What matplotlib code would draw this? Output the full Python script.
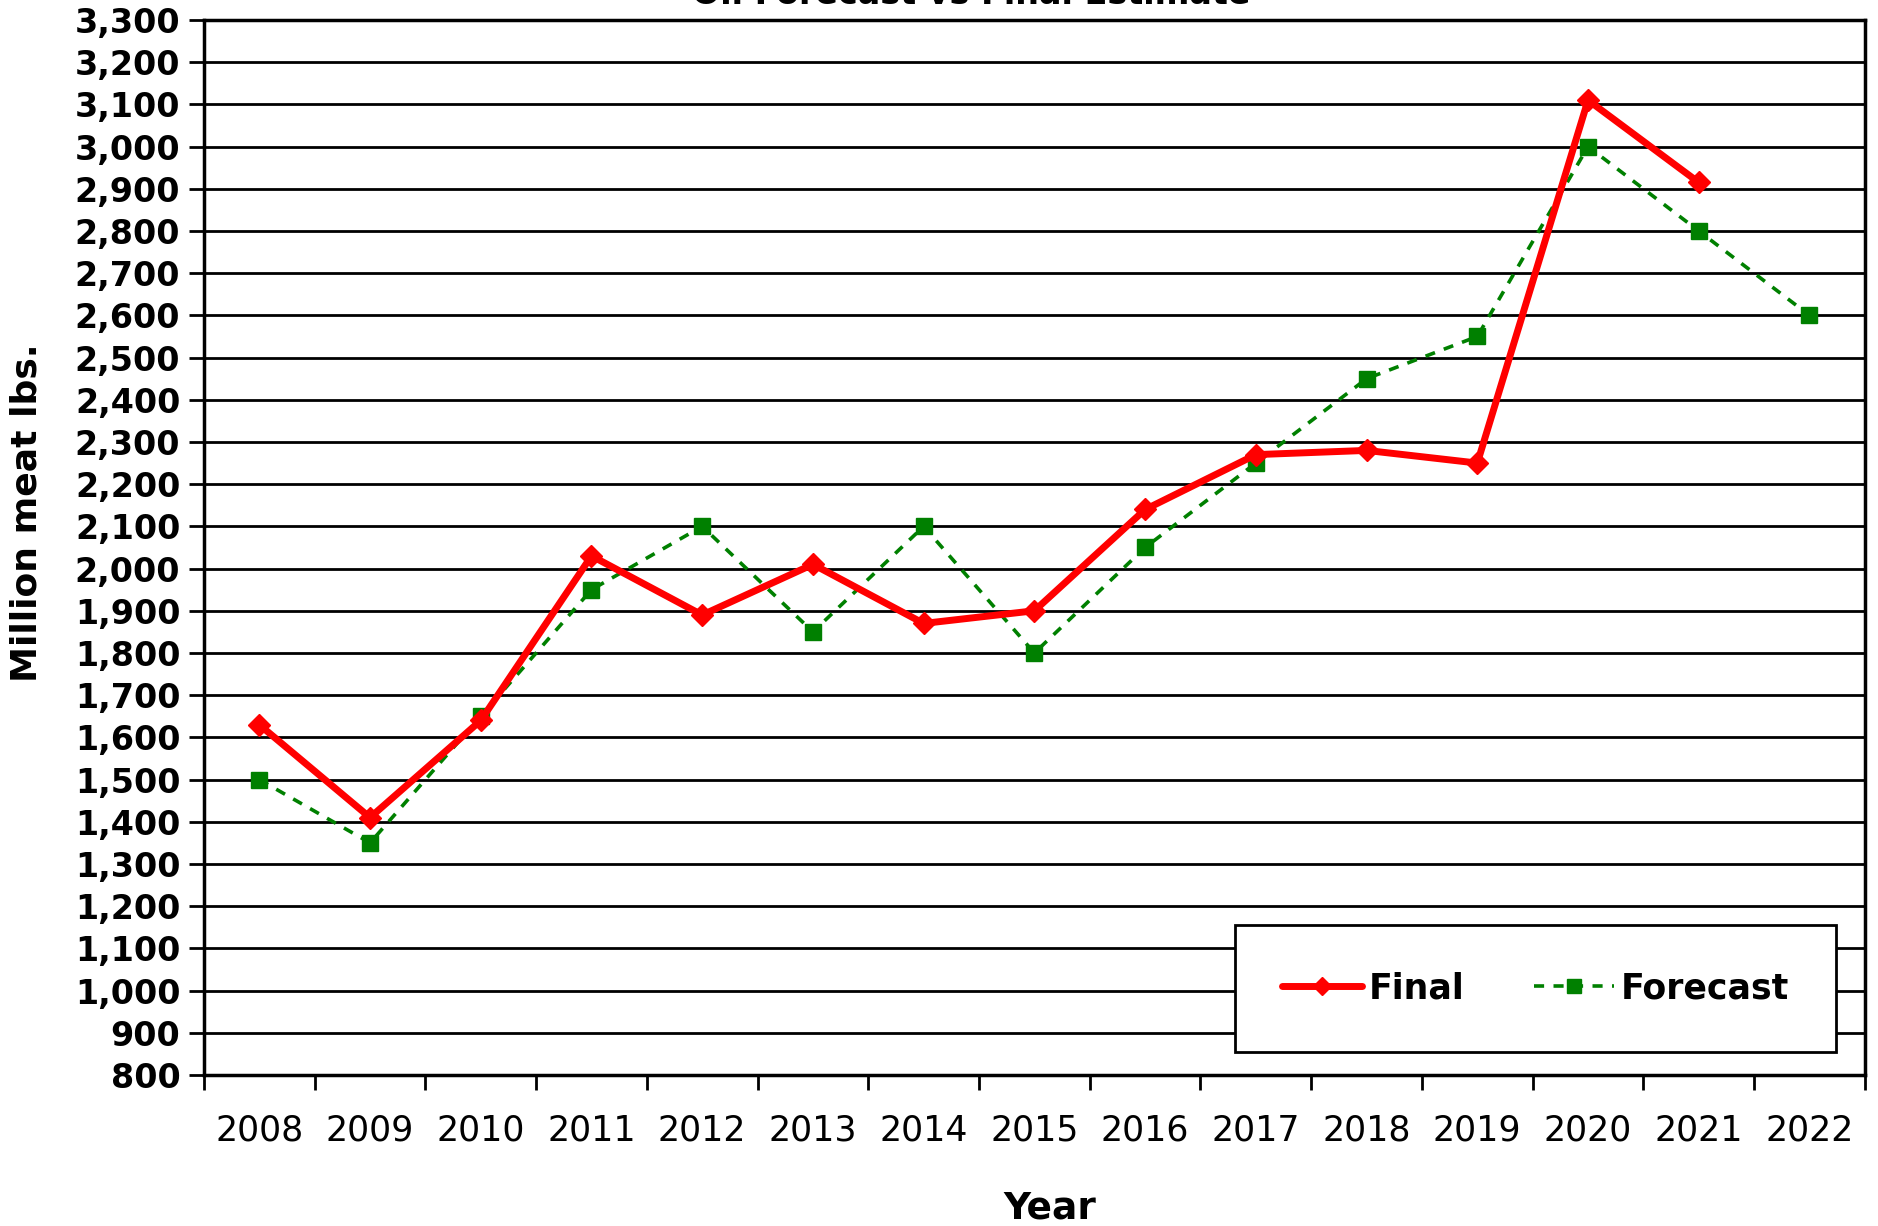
import numpy as np
import matplotlib
matplotlib.use('Agg')
import matplotlib.pyplot as plt

years = ['2008', '2009', '2010', '2011', '2012', '2013', '2014', '2015',
         '2016', '2017', '2018', '2019', '2020', '2021', '2022']
final = [1630, 1410, 1640, 2030, 1890, 2010, 1870, 1900,
         2140, 2270, 2280, 2250, 3110, 2915]
forecast = [1500, 1350, 1650, 1950, 2100, 1850, 2100, 1800,
            2050, 2250, 2450, 2550, 3000, 2800, 2600]

plt.rcParams['font.family'] = ['DejaVu Sans']

fig = plt.figure(figsize=(18.78, 12.26), dpi=100)
ax = fig.add_axes([0.1086, 0.1232, 0.8844, 0.8605])

x = np.arange(len(years))
ax.plot(x[:len(final)], final, color='#ff0000', lw=5, marker='D', ms=11,
        label='Final', solid_capstyle='round', zorder=4)
ax.plot(x, forecast, color='#008000', lw=2.6, ls=(0, (2.8, 2.6)), marker='s', ms=11.5,
        label='Forecast', zorder=3)

ax.set_xlim(-0.5, len(years) - 0.5)
ax.set_ylim(800, 3300)

# y axis
ax.set_yticks(np.arange(800, 3301, 100))
ax.set_yticklabels(['{:,}'.format(v) for v in range(800, 3301, 100)],
                   fontsize=24, fontweight='bold')
ax.yaxis.grid(True, color='black', lw=2)
ax.tick_params(axis='y', length=11, width=2, direction='out', pad=6)

# x axis: ticks between categories, labels at centers
ax.set_xticks(np.arange(-0.5, len(years), 1.0))
ax.set_xticklabels([])
ax.set_xticks(x, minor=True)
ax.set_xticklabels(years, minor=True, fontsize=25)
ax.tick_params(axis='x', which='major', length=11, width=2, direction='out')
ax.tick_params(axis='x', which='minor', length=0, pad=28)

for s in ax.spines.values():
    s.set_linewidth(2.5)
    s.set_color('black')
ax.set_axisbelow(True)

fig.text(0.014, 0.582, 'Million meat lbs.', rotation=90, fontsize=26,
         fontweight='bold', ha='center', va='center')
fig.text(0.559, 0.014, 'Year', fontsize=27, fontweight='bold',
         ha='center', va='center')
fig.text(0.517, 0.997, 'Oil Forecast vs Final Estimate', fontsize=24,
         fontweight='bold', ha='center', va='baseline')

leg = ax.legend(loc='center', bbox_to_anchor=(0.6567, 0.1386, 0.3216, 0.1101),
                bbox_transform=fig.transFigure, ncol=2,
                prop={'weight': 'bold', 'size': 25}, frameon=True,
                fancybox=False, edgecolor='black', framealpha=1,
                handlelength=2.3, columnspacing=2.0, handletextpad=0.2,
                borderpad=1.35, borderaxespad=0, markerscale=0.85)
leg.get_frame().set_linewidth(2)

fig.savefig('out.png', dpi=100)
